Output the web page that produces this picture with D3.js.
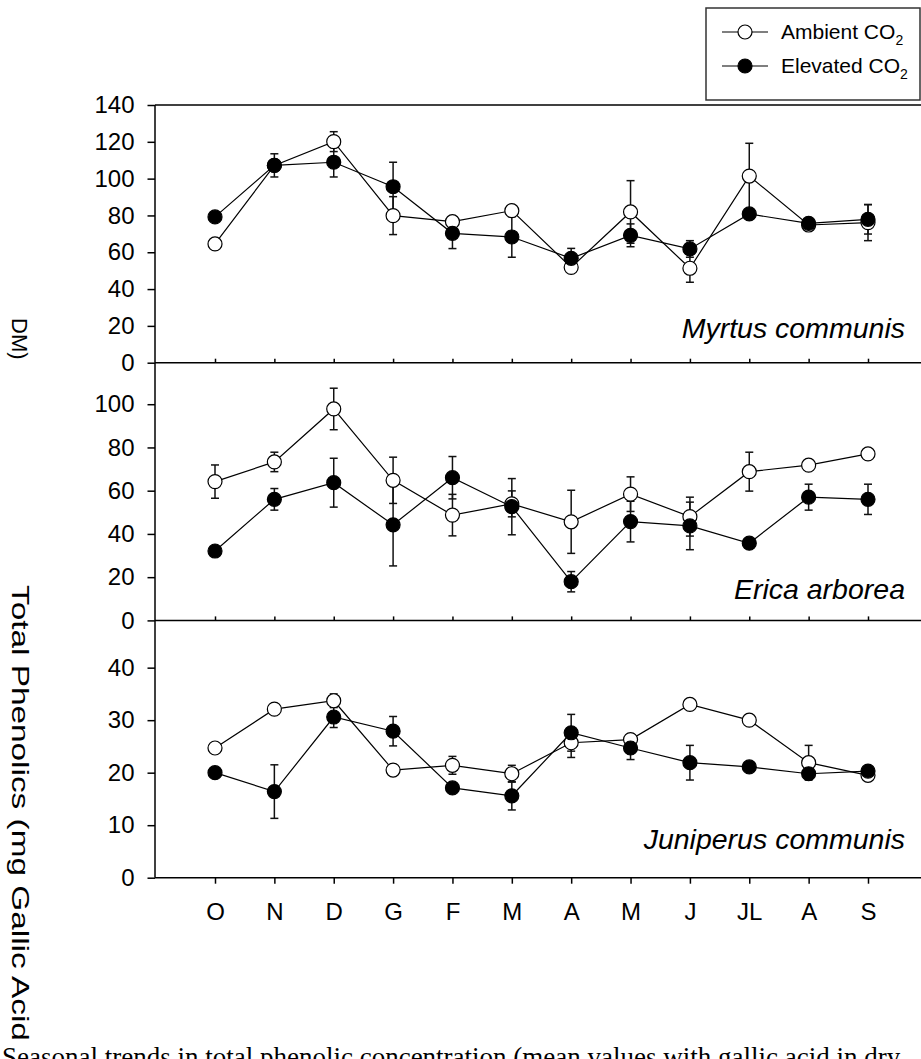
<!DOCTYPE html>
<html>
<head>
<meta charset="utf-8">
<script src="https://cdn.jsdelivr.net/npm/d3@7"></script>
<style>
  html, body { margin: 0; padding: 0; background: #fff; }
  svg { display: block; }
  text { font-family: "Liberation Sans", Arial, sans-serif; fill: #000; }
</style>
</head>
<body>
<svg id="chart" width="921" height="1059"></svg>
<script>
// Sampling months (October to September)
const months = ["O", "N", "D", "G", "F", "M", "A", "M", "J", "JL", "A", "S"];

// Myrtus communis
const myrtusAmbient     = [64.5, 107.2, 120.1, 79.9, 76.6, 82.6, 51.8, 81.9, 51.3, 101.4, 74.8, 76.1];
const myrtusAmbientSE   = [0, 2, 5.4, 10.3, 2.7, 0, 2.5, 17, 7.6, 17.8, 2, 9.8];
const myrtusElevated    = [79.2, 107.2, 108.9, 95.6, 70.3, 68.3, 56.7, 69.2, 61.8, 80.8, 75.7, 77.9];
const myrtusElevatedSE  = [0, 6.3, 8, 13.3, 8.3, 11, 5.4, 6.2, 4.5, 0, 1.5, 8];

// Erica arborea
const ericaAmbient      = [64.2, 73.3, 97.8, 64.8, 48.7, 53.9, 45.6, 58.4, 48, 68.8, 71.8, 77];
const ericaAmbientSE    = [7.7, 4.5, 9.6, 10.7, 9.6, 6, 14.6, 8, 9, 9, 1.5, 2];
const ericaElevated     = [32.1, 56, 63.7, 44.2, 66, 52.6, 17.9, 45.7, 43.7, 35.7, 57, 56];
const ericaElevatedSE   = [2, 5, 11.3, 19, 9.8, 13, 4.7, 9.4, 11, 0, 6, 7];

// Juniperus communis
const juniperusAmbient     = [24.7, 32.1, 33.7, 20.5, 21.4, 19.8, 25.7, 26.3, 33, 30, 21.9, 19.5];
const juniperusAmbientSE   = [0, 0, 1.3, 0, 1.7, 1.6, 2.8, 1, 1, 0, 3.3, 1];
const juniperusElevated    = [20, 16.4, 30.6, 27.9, 17.1, 15.6, 27.6, 24.7, 21.9, 21.1, 19.8, 20.3];
const juniperusElevatedSE  = [0, 5.1, 2, 2.8, 0, 2.7, 3.5, 2.2, 3.3, 0, 1, 0];

// Axis tick values per panel
const myrtusTicks    = [0, 20, 40, 60, 80, 100, 120, 140];
const ericaTicks     = [0, 20, 40, 60, 80, 100];
const juniperusTicks = [0, 10, 20, 30, 40];

const seriesNames = ["Ambient CO", "Elevated CO"];
const speciesNames = ["Myrtus communis", "Erica arborea", "Juniperus communis"];

const panels = [
  { name: speciesNames[0], amb: myrtusAmbient, ambSE: myrtusAmbientSE, ele: myrtusElevated, eleSE: myrtusElevatedSE,
    max: 140, ticks: myrtusTicks, top: 105, bottom: 362.7 },
  { name: speciesNames[1], amb: ericaAmbient, ambSE: ericaAmbientSE, ele: ericaElevated, eleSE: ericaElevatedSE,
    max: 119.2, ticks: ericaTicks, top: 362.7, bottom: 620.4 },
  { name: speciesNames[2], amb: juniperusAmbient, ambSE: juniperusAmbientSE, ele: juniperusElevated, eleSE: juniperusElevatedSE,
    max: 49, ticks: juniperusTicks, top: 620.4, bottom: 877.7 }
];

const svg = d3.select("#chart");
const axisLeftX = 155;
const rightEdge = 921;
const R = 7;

const x = d3.scalePoint().domain(d3.range(months.length)).range([215, 868]);

panels.forEach((p, pi) => {
  const y = d3.scaleLinear().domain([0, p.max]).range([p.bottom, p.top]);
  const g = svg.append("g");

  // Left axis
  const yAxis = d3.axisLeft(y).tickValues(p.ticks).tickSize(7.5).tickPadding(13);
  const ga = g.append("g").attr("transform", `translate(${axisLeftX},0)`).call(yAxis);
  ga.select(".domain").remove();
  ga.selectAll(".tick line").attr("stroke", "#000").attr("stroke-width", 1.5);
  ga.selectAll(".tick text").style("font-size", "24px").style("font-family", "'Liberation Sans', Arial, sans-serif");
  g.append("line").attr("x1", axisLeftX).attr("x2", axisLeftX).attr("y1", p.top).attr("y2", p.bottom)
    .attr("stroke", "#000").attr("stroke-width", 1.5);

  // Top frame line for the first panel
  if (pi === 0) {
    g.append("line").attr("x1", axisLeftX).attr("x2", rightEdge).attr("y1", p.top).attr("y2", p.top)
      .attr("stroke", "#000").attr("stroke-width", 1.5);
  }

  // Bottom line with month ticks
  g.append("line").attr("x1", axisLeftX).attr("x2", rightEdge).attr("y1", p.bottom).attr("y2", p.bottom)
    .attr("stroke", "#000").attr("stroke-width", 1.5);
  const last = pi === panels.length - 1;
  const xAxis = d3.axisBottom(x)
    .tickSize(last ? 6 : -4)
    .tickPadding(19)
    .tickFormat(i => last ? months[i] : "");
  const gx = g.append("g").attr("transform", `translate(0,${p.bottom})`).call(xAxis);
  gx.select(".domain").remove();
  gx.selectAll(".tick line").attr("stroke", "#000").attr("stroke-width", 1.5);
  gx.selectAll(".tick text").style("font-size", "24px").style("font-family", "'Liberation Sans', Arial, sans-serif");

  const series = [
    { v: p.amb, se: p.ambSE, fill: "#fff" },
    { v: p.ele, se: p.eleSE, fill: "#000" }
  ];

  // Error bars
  series.forEach(s => {
    const eb = g.append("g").attr("stroke", "#111").attr("stroke-width", 1.5);
    s.v.forEach((v, i) => {
      if (!s.se[i]) return;
      const cx = x(i), y1 = y(v + s.se[i]), y2 = y(v - s.se[i]);
      eb.append("line").attr("x1", cx).attr("x2", cx).attr("y1", y1).attr("y2", y2);
      eb.append("line").attr("x1", cx - 4).attr("x2", cx + 4).attr("y1", y1).attr("y2", y1);
      eb.append("line").attr("x1", cx - 4).attr("x2", cx + 4).attr("y1", y2).attr("y2", y2);
    });
  });

  // Connecting lines and markers
  const line = d3.line().x((d, i) => x(i)).y(d => y(d));
  series.forEach(s => {
    g.append("path").datum(s.v).attr("d", line).attr("fill", "none").attr("stroke", "#000").attr("stroke-width", 1.2);
  });
  series.forEach(s => {
    g.append("g").selectAll("circle").data(s.v).join("circle")
      .attr("cx", (d, i) => x(i)).attr("cy", d => y(d)).attr("r", R)
      .attr("fill", s.fill).attr("stroke", "#000").attr("stroke-width", 1.2);
  });

  // Species name
  g.append("text").attr("x", 905).attr("y", [338.3, 599, 849.3][pi])
    .attr("text-anchor", "end").style("font-size", "28.5px").style("font-style", "italic")
    .text(p.name);
});

// Legend
const lg = svg.append("g");
lg.append("rect").attr("x", 706).attr("y", 8).attr("width", 214).attr("height", 92)
  .attr("fill", "#fff").attr("stroke", "#333").attr("stroke-width", 1.5);
[{ fill: "#fff", y: 32 }, { fill: "#000", y: 66 }].forEach((e, i) => {
  lg.append("line").attr("x1", 722).attr("x2", 768).attr("y1", e.y).attr("y2", e.y)
    .attr("stroke", "#000").attr("stroke-width", 1.2);
  lg.append("circle").attr("cx", 745).attr("cy", e.y).attr("r", R)
    .attr("fill", e.fill).attr("stroke", "#000").attr("stroke-width", 1.2);
  const t = lg.append("text").attr("x", 781).attr("y", e.y + 7).style("font-size", "21px");
  t.append("tspan").text(seriesNames[i]);
  t.append("tspan").attr("dy", 6).style("font-size", "14px").text("2");
});

// Y-axis title
svg.append("text").attr("transform", "translate(12,318) rotate(90)").style("font-size", "22px").text("DM)");
svg.append("text").attr("transform", "translate(12,585) rotate(90) scale(1.39,1)").style("font-size", "24px")
  .text("Total Phenolics (mg Gallic Acid");

// Caption line running off the bottom
svg.append("text").attr("x", 2).attr("y", 1066)
  .style("font-family", "'Liberation Serif', 'Times New Roman', serif").style("font-size", "27px")
  .text("Seasonal trends in total phenolic concentration (mean values with gallic acid in dry");
</script>
</body>
</html>
